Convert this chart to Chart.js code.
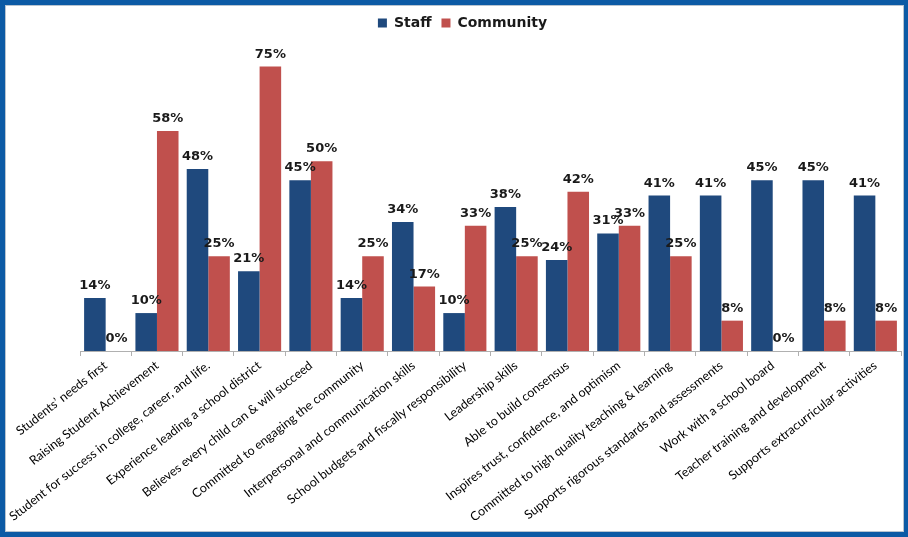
<!DOCTYPE html>
<html>
<head>
<meta charset="utf-8">
<script src="https://cdn.jsdelivr.net/npm/chart.js@4.4.1/dist/chart.umd.min.js"></script>
<style>
  html, body { margin: 0; padding: 0; }
  body { width: 908px; height: 537px; background: #0c5aa5; position: relative; overflow: hidden; }
  #panel { position: absolute; left: 5px; top: 5px; width: 897px; height: 525px; background: #fff; border: 1px solid #b8c4d0; }
  canvas { position: absolute; left: 0; top: 0; }
</style>
</head>
<body>
<div id="panel"><canvas id="chart" width="897" height="525"></canvas></div>
<script>
'use strict';
var categories = [
    'Students\u2019 needs first',
    'Raising Student Achievement',
    'Student for success in college, career, and life.',
    'Experience leading a school district',
    'Believes every child can & will succeed',
    'Committed to engaging the community',
    'Interpersonal and communication skills',
    'School budgets and fiscally responsibility',
    'Leadership skills',
    'Able to build consensus',
    'Inspires trust, confidence, and optimism',
    'Committed to high quality teaching & learning',
    'Supports rigorous standards and assessments',
    'Work with a school board',
    'Teacher training and development',
    'Supports extracurricular activities'
];
var staff = [14, 10, 48, 21, 45, 14, 34, 10, 38, 24, 31, 41, 41, 45, 45, 41];
var community = [0, 58, 25, 75, 50, 25, 17, 33, 25, 42, 33, 25, 8, 0, 8, 8];

// draws the "NN%" label above every bar
var barLabels = {
    id: 'barLabels',
    afterDatasetsDraw: function (chart) {
        var ctx = chart.ctx;
        ctx.save();
        ctx.font = 'bold 13px "DejaVu Sans"';
        ctx.fillStyle = '#1a1a1a';
        ctx.textAlign = 'center';
        ctx.textBaseline = 'alphabetic';
        chart.data.datasets.forEach(function (ds, i) {
            chart.getDatasetMeta(i).data.forEach(function (bar, j) {
                ctx.fillText(ds.data[j] + '%', bar.x, bar.y - 9);
            });
        });
        ctx.restore();
    }
};

new Chart(document.getElementById('chart').getContext('2d'), {
    type: 'bar',
    data: {
        labels: categories,
        datasets: [{
            label: 'Staff',
            data: staff,
            backgroundColor: '#1f497d'
        }, {
            label: 'Community',
            data: community,
            backgroundColor: '#c0504d'
        }]
    },
    options: {
        responsive: false,
        animation: false,
        layout: { padding: { top: 0, left: 18, right: 2, bottom: 0 } },
        datasets: { bar: { categoryPercentage: 0.84, barPercentage: 1.0 } },
        plugins: {
            legend: {
                position: 'top',
                labels: {
                    boxWidth: 9,
                    boxHeight: 9,
                    padding: 10,
                    color: '#1a1a1a',
                    font: { family: 'DejaVu Sans', size: 14, weight: 'bold' }
                }
            },
            tooltip: { enabled: false }
        },
        scales: {
            y: {
                // hidden axis, only keeps the plot's left edge in place
                min: 0,
                max: 82,
                grid: { display: false },
                border: { display: false },
                ticks: { display: false },
                afterFit: function (scale) {
                    scale.width = 56;
                }
            },
            x: {
                afterFit: function (scale) {
                    scale.height = 180;
                },
                grid: {
                    display: true,
                    drawOnChartArea: false,
                    drawTicks: true,
                    tickLength: 5,
                    color: '#b0b0b0',
                    offset: true
                },
                border: { display: true, color: '#b0b0b0' },
                ticks: {
                    autoSkip: false,
                    minRotation: 38,
                    maxRotation: 38,
                    padding: 2,
                    color: '#000',
                    font: { family: 'Lato', size: 12.5 }
                }
            }
        }
    },
    plugins: [barLabels]
});
</script>
</body>
</html>
